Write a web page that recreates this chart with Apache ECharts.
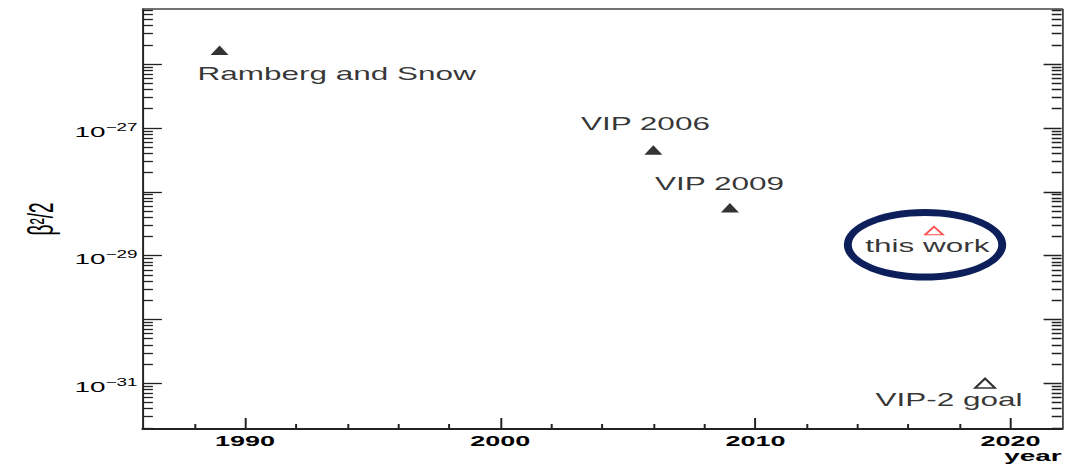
<!DOCTYPE html>
<html><head><meta charset="utf-8">
<script src="https://cdn.jsdelivr.net/npm/echarts@6/dist/echarts.min.js"></script>
<style>
html,body{margin:0;padding:0;background:#fff;overflow:hidden}
#c{width:592.222px;height:464px;transform:scaleX(1.8);transform-origin:0 0}
</style>
</head><body><div id="c"></div>
<script>
// ---- data ----
const measuredYears = [1989, 2006, 2009];
const measuredValues = [1.65e-26, 4.5e-28, 5.6e-29];
const measuredNames = ['Ramberg and Snow', 'VIP 2006', 'VIP 2009'];
const thisWorkYears = [2017];
const thisWorkValues = [2.45e-29];
const thisWorkNames = ['this work'];
const goalYears = [2019];
const goalValues = [1e-31];
const goalNames = ['VIP-2 goal'];
const xTickLabels = [1990, 2000, 2010, 2020];
const xMinorTicks = [1988, 1992, 1994, 1996, 1998, 2002, 2004, 2006, 2008, 2012, 2014, 2016, 2018];
const yLabelExponents = [-31, -29, -27];
const X_MIN = 1986, X_MAX = 2022;
const Y_MIN = 1.92e-32, Y_MAX = 7.3e-26;
const X_TITLE = 'year';
const Y_TITLE = 'β²/2';

// ---- layout / style (not data) ----
const FONT = "'Liberation Sans', Arial, Helvetica, sans-serif";
const TEXT_COLOR = '#000';
const labelLayout = {
  'Ramberg and Snow': {align: 'left', offset: [-12.2, 24]},
  'VIP 2006': {align: 'center', offset: [-4.4, -26]},
  'VIP 2009': {align: 'center', offset: [-5.8, -24]},
  'this work': {align: 'center', offset: [-3.7, 15.5]},
  'VIP-2 goal': {align: 'center', offset: [-20, 16.5]}
};
function itemLabel(name) {
  const l = labelLayout[name];
  return {show: true, position: 'inside', align: l.align, verticalAlign: 'middle',
    offset: l.offset, formatter: name, color: TEXT_COLOR, fontSize: 17.5, fontFamily: FONT};
}
function zip(xs, ys, names) {
  return xs.map((x, i) => ({value: [x, ys[i]], name: names[i], label: itemLabel(names[i])}));
}

const logMin = Math.log10(Y_MIN), logMax = Math.log10(Y_MAX);
const yMinorLog = [];
for (let k = Math.floor(logMin); k <= Math.ceil(logMax); k++) {
  for (let m = 2; m <= 9; m++) {
    const v = k + Math.log10(m);
    if (v > logMin && v < logMax) yMinorLog.push(v);
  }
}

const AXIS_COLOR = '#222';
const chart = echarts.init(document.getElementById('c'), null, {renderer: 'svg'});
chart.setOption({
  animation: false,
  backgroundColor: '#fff',
  grid: {left: 79.44, right: 2.22, top: 9, bottom: 35, outerBoundsMode: 'none', containLabel: false},
  graphic: [{
    type: 'text', right: 2.22, bottom: 0, silent: true,
    style: {text: X_TITLE, fill: TEXT_COLOR, font: "bold 15.5px 'Liberation Sans', Arial, sans-serif"}
  }],
  xAxis: [
    {
      type: 'value', min: X_MIN, max: X_MAX, position: 'bottom',
      axisLine: {show: true, lineStyle: {color: AXIS_COLOR, width: 2}},
      axisTick: {show: true, inside: true, length: 11, customValues: xTickLabels,
        lineStyle: {color: AXIS_COLOR, width: 1.1}},
      axisLabel: {show: true, customValues: xTickLabels, margin: 5, fontSize: 15, lineHeight: 13,
        fontWeight: 'bold', fontFamily: FONT, color: TEXT_COLOR,
        formatter: function (v) { return String(Math.round(v)); }},
      splitLine: {show: false}
    },
    {
      type: 'value', min: X_MIN, max: X_MAX, position: 'bottom',
      axisLine: {show: false},
      axisTick: {show: true, inside: true, length: 5, customValues: xMinorTicks,
        lineStyle: {color: AXIS_COLOR, width: 1.1}},
      axisLabel: {show: false},
      splitLine: {show: false}
    },
    {
      type: 'value', min: X_MIN, max: X_MAX, position: 'top',
      axisLine: {show: true, lineStyle: {color: '#444', width: 1.5}},
      axisTick: {show: false}, axisLabel: {show: false}, splitLine: {show: false}
    }
  ],
  yAxis: [
    {
      type: 'log', min: Y_MIN, max: Y_MAX, position: 'left',
      name: Y_TITLE, nameLocation: 'middle', nameRotate: 90, nameGap: 47, nameMoveOverlap: false,
      nameTextStyle: {fontSize: 19, fontFamily: FONT, color: TEXT_COLOR},
      axisLine: {show: true, lineStyle: {color: AXIS_COLOR, width: 1.1}},
      axisTick: {show: true, inside: true, length: 10.5, lineStyle: {color: AXIS_COLOR, width: 1.3}},
      axisLabel: {
        show: true, margin: 3, padding: [5, 0, 0, 0],
        formatter: function (v) {
          const e = Math.log10(v), r = Math.round(e);
          if (Math.abs(e - r) > 1e-6 || yLabelExponents.indexOf(r) < 0) return '';
          return '{b|10}{s|\u2212' + Math.abs(r) + '}';
        },
        rich: {
          b: {fontSize: 15.5, lineHeight: 18, verticalAlign: 'bottom', fontFamily: FONT, color: TEXT_COLOR},
          s: {fontSize: 10.5, lineHeight: 12, verticalAlign: 'top', fontFamily: FONT, color: TEXT_COLOR}
        }
      },
      splitLine: {show: false}
    },
    {
      type: 'log', min: Y_MIN, max: Y_MAX, position: 'right',
      axisLine: {show: true, lineStyle: {color: '#444', width: 1}},
      axisTick: {show: true, inside: true, length: 10, lineStyle: {color: AXIS_COLOR, width: 1.3}},
      axisLabel: {show: false}, splitLine: {show: false}
    },
    {
      type: 'value', min: logMin, max: logMax, position: 'left',
      axisLine: {show: false},
      axisTick: {show: true, inside: true, length: 5.5, customValues: yMinorLog,
        lineStyle: {color: AXIS_COLOR, width: 1.3}},
      axisLabel: {show: false}, splitLine: {show: false}
    },
    {
      type: 'value', min: logMin, max: logMax, position: 'right',
      axisLine: {show: false},
      axisTick: {show: true, inside: true, length: 5.5, customValues: yMinorLog,
        lineStyle: {color: AXIS_COLOR, width: 1.3}},
      axisLabel: {show: false}, splitLine: {show: false}
    }
  ],
  series: [
    {
      type: 'custom', xAxisIndex: 0, yAxisIndex: 0, z: 1, silent: true, clip: false,
      data: thisWorkYears.map((x, i) => [x, thisWorkValues[i]]),
      renderItem: function (params, api) {
        const p = api.coord([api.value(0), api.value(1)]);
        const cx = p[0] - 5, cy = p[1] + 14;
        return {type: 'group', children: [
          {type: 'ellipse', shape: {cx: cx, cy: cy, rx: 45.1, ry: 35.8}, style: {fill: '#0c1f5b'}},
          {type: 'ellipse', shape: {cx: cx, cy: cy, rx: 40.7, ry: 28.8}, style: {fill: '#fff'}}
        ]};
      }
    },
    {
      type: 'scatter', name: 'measurements', xAxisIndex: 0, yAxisIndex: 0, z: 3,
      symbol: 'triangle', symbolSize: [10, 9.5],
      itemStyle: {color: '#000'},
      data: zip(measuredYears, measuredValues, measuredNames)
    },
    {
      type: 'scatter', name: 'this work', xAxisIndex: 0, yAxisIndex: 0, z: 3,
      symbol: 'triangle', symbolSize: [10, 8],
      itemStyle: {color: '#fff', borderColor: '#ff2020', borderWidth: 1.2},
      data: zip(thisWorkYears, thisWorkValues, thisWorkNames)
    },
    {
      type: 'scatter', name: 'VIP-2 goal', xAxisIndex: 0, yAxisIndex: 0, z: 3,
      symbol: 'triangle', symbolSize: [11, 9.5],
      itemStyle: {color: '#fff', borderColor: '#000', borderWidth: 1.5},
      data: zip(goalYears, goalValues, goalNames)
    }
  ]
});
</script>
</body></html>
